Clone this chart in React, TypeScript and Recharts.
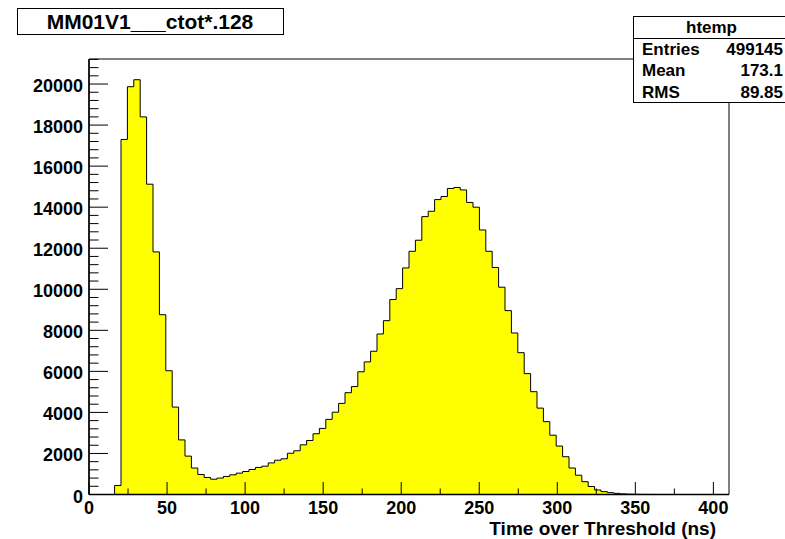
import React from 'react'
import { ComposedChart, Area, XAxis, YAxis, ReferenceArea } from 'recharts'

// histogram binning (100 bins over 0..410 ns)
const X_MIN = 0
const X_MAX = 410
const Y_MAX = 21220

// counts per bin
const binCounts = [
  0, 0, 0, 0, 440, 17300, 19870, 20210, 18400, 15120,
  11820, 8760, 6030, 4260, 2660, 1870, 1290, 975, 830, 745,
  800, 880, 960, 1040, 1120, 1220, 1320, 1380, 1540, 1670,
  1740, 2010, 2130, 2420, 2630, 2960, 3220, 3660, 4010, 4440,
  4960, 5260, 5980, 6460, 6980, 7820, 8470, 9500, 10030, 11040,
  11850, 12390, 13540, 13800, 14370, 14520, 14910, 14960, 14840, 14230,
  14000, 12890, 11850, 11060, 10100, 8960, 7870, 6910, 5890, 5010,
  4210, 3550, 2890, 2360, 1840, 1290, 940, 625, 390, 220,
  140, 90, 55, 30, 15, 9, 5, 3, 2, 1,
  1, 0, 0, 0, 0, 0, 0, 0, 0, 0,
]

const xMajorTicks = [0, 50, 100, 150, 200, 250, 300, 350, 400]
const xMinorTicks = [25, 75, 125, 175, 225, 275, 325, 375]
const yMajorTicks = [0, 2000, 4000, 6000, 8000, 10000, 12000, 14000, 16000, 18000, 20000]
const yMinorStep = 400

const titleText = 'MM01V1___ctot*.128'
const axisTitle = 'Time over Threshold (ns)'
const statsName = 'htemp'
const statsRows = [
  { label: 'Entries', value: '499145' },
  { label: 'Mean', value: '173.1' },
  { label: 'RMS', value: '89.85' },
]

const FONT = '"Liberation Sans", Arial, Helvetica, sans-serif'

const binWidth = (X_MAX - X_MIN) / binCounts.length
const histData = binCounts
  .map((c, i) => ({ x: X_MIN + i * binWidth, y: c }))
  .concat([{ x: X_MAX, y: binCounts[binCounts.length - 1] }])

const xTicks = [...xMajorTicks, ...xMinorTicks].sort((a, b) => a - b)
const yTicks: number[] = []
for (let v = 0; v <= Y_MAX; v += yMinorStep) yTicks.push(v)

const XTick = (props: any) => {
  const { x, y, payload } = props
  const major = xMajorTicks.includes(payload.value)
  return (
    <g>
      <line x1={x} x2={x} y1={y} y2={y - (major ? 12.5 : 6)} stroke="#000" strokeWidth={1} />
      {major && (
        <text x={x} y={y + 19} textAnchor="middle" fontFamily={FONT} fontWeight="bold" fontSize={18} fill="#000">
          {payload.value}
        </text>
      )}
    </g>
  )
}

const YTick = (props: any) => {
  const { x, y, payload } = props
  const major = payload.value % 2000 === 0
  return (
    <g>
      <line x1={x} x2={x + (major ? 19 : 9.5)} y1={y} y2={y} stroke="#000" strokeWidth={1} />
      {major && (
        <text x={x - 6} y={y + 8} textAnchor="end" fontFamily={FONT} fontWeight="bold" fontSize={18} fill="#000">
          {payload.value}
        </text>
      )}
    </g>
  )
}

const AxisTitle = (props: any) => {
  const { viewBox } = props
  return (
    <text
      x={viewBox.x + viewBox.width - 13}
      y={viewBox.y + 40}
      textAnchor="end"
      fontFamily={FONT}
      fontWeight="bold"
      fontSize={19}
      fill="#000"
    >
      {axisTitle}
    </text>
  )
}

export default function App() {
  return (
    <div style={{ position: 'relative', width: 785, height: 539, overflow: 'hidden', background: '#fff', fontFamily: FONT }}>
      <style>{'body{margin:0}'}</style>
      <ComposedChart width={785} height={539} data={histData} margin={{ top: 59, right: 56, left: 0, bottom: 0 }}>
        <XAxis
          dataKey="x"
          type="number"
          domain={[X_MIN, X_MAX]}
          ticks={xTicks}
          interval={0}
          height={44.5}
          tickSize={0}
          tickMargin={0}
          tickLine={false}
          axisLine={{ stroke: '#000', strokeWidth: 1.5 }}
          tick={<XTick />}
          allowDataOverflow
          label={<AxisTitle />}
        />
        <YAxis
          type="number"
          domain={[0, Y_MAX]}
          ticks={yTicks}
          interval={0}
          width={89}
          tickSize={0}
          tickMargin={0}
          tickLine={false}
          axisLine={{ stroke: '#000', strokeWidth: 1.5 }}
          tick={<YTick />}
          allowDataOverflow
        />
        <Area
          type="stepAfter"
          dataKey="y"
          stroke="#000"
          strokeWidth={1}
          fill="#ffff00"
          fillOpacity={1}
          isAnimationActive={false}
          dot={false}
          activeDot={false}
        />
        <ReferenceArea x1={X_MIN} x2={X_MAX} y1={0} y2={Y_MAX} fill="none" stroke="#000" strokeWidth={1} />
      </ComposedChart>

      <div
        style={{
          position: 'absolute', left: 16.5, top: 8, width: 265, height: 25,
          border: '1px solid #000', background: '#fff', display: 'flex',
          alignItems: 'center', justifyContent: 'center', fontWeight: 'bold', fontSize: 21,
        }}
      >
        {titleText}
      </div>

      <div
        style={{
          position: 'absolute', left: 633, top: 15.5, width: 155, height: 85.5,
          border: '1px solid #000', background: '#fff', fontWeight: 'bold', fontSize: 17,
        }}
      >
        <div style={{ height: 21, lineHeight: '21px', textAlign: 'center', borderBottom: '1px solid #000' }}>
          {statsName}
        </div>
        {statsRows.map(r => (
          <div key={r.label} style={{ display: 'flex', justifyContent: 'space-between', height: 21.5, lineHeight: '21.5px', padding: '0 6px 0 8px' }}>
            <span>{r.label}</span>
            <span>{r.value}</span>
          </div>
        ))}
      </div>
    </div>
  )
}
